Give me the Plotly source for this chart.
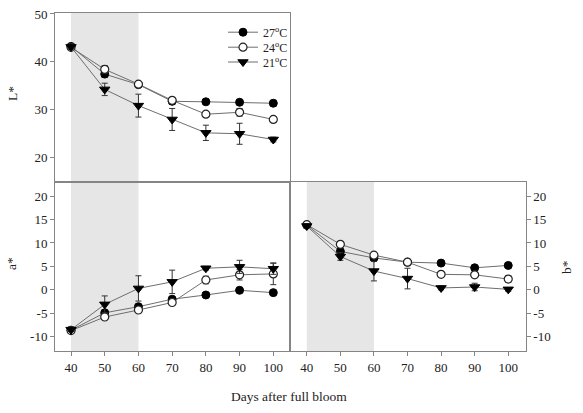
import plotly.graph_objects as go

days = [40, 50, 60, 70, 80, 90, 100]

L_27 = [43.2, 37.4, 35.2, 31.7, 31.6, 31.5, 31.3]
L_24 = [43.0, 38.4, 35.3, 31.9, 29.0, 29.4, 27.9]
L_21 = [43.1, 34.2, 30.8, 27.9, 25.1, 24.9, 23.7]
L_27_err = [0.5, 0.7, 0.4, 0.5, 0.4, 0.4, 0.6]
L_24_err = [0.5, 0.8, 0.4, 0.5, 0.5, 0.8, 0.6]
L_21_err = [0.5, 1.3, 2.4, 2.3, 1.6, 2.2, 0.5]

a_27 = [-8.6, -4.9, -3.6, -2.0, -1.1, -0.1, -0.6]
a_24 = [-8.7, -5.8, -4.3, -2.7, 2.1, 3.2, 3.4]
a_21 = [-8.5, -3.1, 0.3, 1.7, 4.6, 4.9, 4.5]
a_27_err = [0.4, 0.5, 0.4, 0.4, 0.4, 0.4, 0.4]
a_24_err = [0.4, 0.5, 0.4, 0.5, 0.8, 1.1, 2.3]
a_21_err = [0.4, 1.8, 2.7, 2.5, 0.4, 1.4, 1.2]

b_27 = [13.8, 8.2, 6.8, 5.9, 5.7, 4.7, 5.2]
b_24 = [13.9, 9.7, 7.4, 5.9, 3.3, 3.2, 2.3]
b_21 = [13.6, 7.1, 4.0, 2.4, 0.4, 0.6, 0.1]
b_27_err = [0.5, 0.5, 0.4, 0.4, 0.4, 0.4, 0.4]
b_24_err = [0.5, 0.6, 0.4, 0.4, 0.4, 0.4, 0.7]
b_21_err = [0.5, 0.8, 2.1, 2.2, 0.4, 0.8, 0.4]

L_ticks = [20, 30, 40, 50]
ab_ticks = [-10, -5, 0, 5, 10, 15, 20]
ab_ticktext = ["-10", "-5", "0", "5", "10", "15", "20"]

series_names = ["27<sup>o</sup>C", "24<sup>o</sup>C", "21<sup>o</sup>C"]
shade_range = [40, 60]

FONT = "Liberation Serif, Times New Roman, serif"
AXC = "#858585"
LINEC = "#6e6e6e"
TXT = "#222222"
W, H = 583, 413

markers = [
    dict(symbol="circle", size=8, color="black", line=dict(color="black", width=1)),
    dict(symbol="circle", size=8, color="white", line=dict(color="#222222", width=1.2)),
    dict(symbol="triangle-down", size=9, color="black", line=dict(color="black", width=1)),
]
legend_ids = ["legend", "legend2", "legend3"]
legend_row_y = [32.7, 47.7, 62.5]

fig = go.Figure()

panels = [
    ("x", "y", [L_27, L_24, L_21], [L_27_err, L_24_err, L_21_err], True),
    ("x2", "y2", [a_27, a_24, a_21], [a_27_err, a_24_err, a_21_err], False),
    ("x3", "y3", [b_27, b_24, b_21], [b_27_err, b_24_err, b_21_err], False),
]

for xa, ya, vals, errs, show in panels:
    for i in range(3):
        fig.add_trace(go.Scatter(
            x=days, y=vals[i], xaxis=xa, yaxis=ya,
            mode="lines+markers",
            name=series_names[i],
            legend=legend_ids[i],
            showlegend=show,
            line=dict(color=LINEC, width=1),
            marker=markers[i],
            error_y=dict(type="data", array=errs[i], visible=True,
                         color="#333333", thickness=1, width=3),
        ))

xdom_l = [55 / W, 290 / W]
xdom_r = [290 / W, 525.7 / W]
ydom_t = [1 - 182 / H, 1 - 13 / H]
ydom_b = [1 - 351 / H, 1 - 182 / H]


def ax(**kw):
    d = dict(showline=True, linecolor=AXC, linewidth=1, mirror=True,
             showgrid=False, zeroline=False, tickcolor=AXC, ticklen=4, tickwidth=1,
             automargin=False,
             tickfont=dict(family=FONT, size=13, color=TXT))
    d.update(kw)
    return d


def leg(row_y):
    return dict(x=223 / W, y=1 - (row_y - 15) / H, xanchor="left", yanchor="top",
                bgcolor="rgba(0,0,0,0)", font=dict(family=FONT, size=12, color=TXT),
                itemwidth=30)


fig.update_layout(
    width=W, height=H,
    margin=dict(l=0, r=0, t=0, b=0, autoexpand=False),
    paper_bgcolor="white", plot_bgcolor="white",
    font=dict(family=FONT, size=13, color=TXT),
    xaxis=ax(domain=xdom_l, anchor="y", range=[35.25, 104.95], showticklabels=False, ticks=""),
    yaxis=ax(domain=ydom_t, anchor="x", range=[14.8, 50.2], tickvals=L_ticks, ticks="outside"),
    xaxis2=ax(domain=xdom_l, anchor="y2", range=[35.25, 104.95], tickvals=days, ticks="outside"),
    yaxis2=ax(domain=ydom_b, anchor="x2", range=[-13.05, 23.0], tickvals=ab_ticks,
              ticktext=ab_ticktext, ticks="outside"),
    xaxis3=ax(domain=xdom_r, anchor="y3", range=[35.0, 105.2], tickvals=days, ticks="outside"),
    yaxis3=ax(domain=ydom_b, anchor="x3", side="right", range=[-13.05, 23.0], tickvals=ab_ticks,
              ticktext=ab_ticktext, ticks="outside"),
    legend=leg(legend_row_y[0]),
    legend2=leg(legend_row_y[1]),
    legend3=leg(legend_row_y[2]),
    showlegend=True,
)

for xr, yr in [("x", "y domain"), ("x2", "y2 domain"), ("x3", "y3 domain")]:
    fig.add_shape(type="rect", xref=xr, yref=yr, x0=shade_range[0], x1=shade_range[1],
                  y0=0, y1=1, fillcolor="#e6e6e6", line=dict(width=0), layer="below")

ann = [
    dict(text="L*", x=13 / W, y=1 - 94 / H, textangle=-90),
    dict(text="a*", x=11 / W, y=1 - 264 / H, textangle=-90),
    dict(text="b*", x=566 / W, y=1 - 267 / H, textangle=-90),
    dict(text="Days after full bloom", x=288.5 / W, y=1 - 396 / H, textangle=0),
]
for a in ann:
    fig.add_annotation(xref="paper", yref="paper", showarrow=False,
                       xanchor="center", yanchor="middle",
                       font=dict(family=FONT, size=13.5, color=TXT), **a)

fig.write_html("out.html", config={"displayModeBar": False},
               post_script="document.body.style.margin='0px';document.body.style.overflow='hidden';")
